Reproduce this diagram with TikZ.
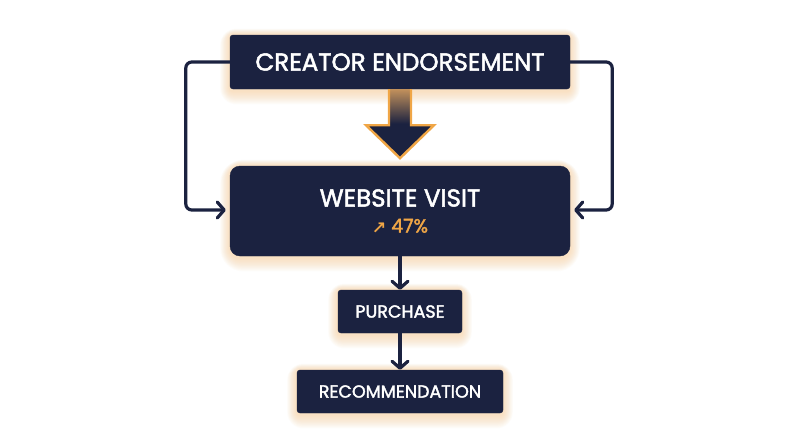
\documentclass[tikz,border=0pt]{standalone}
\usepackage{fontspec}
\setmainfont{Poppins}
\newfontfamily\semi{Poppins}[FakeBold=2]
\newfontfamily\djv{DejaVu Sans}[FakeBold=1.3]
\usetikzlibrary{arrows.meta,backgrounds,calc}
\pgfdeclarelayer{paper}
\pgfsetlayers{paper,background,main}
\definecolor{navy}{HTML}{1B2240}
\definecolor{accent}{HTML}{F0A646}
\definecolor{glowc}{HTML}{F9B565}
\tikzset{
  box/.style={fill=navy, text=white, draw=navy, inner sep=0pt, rounded corners=3pt},
  conn/.style={draw=navy, line width=3.2pt, rounded corners=6pt, line cap=round, -{Straight Barb[length=7pt,width=16pt,line width=3.2pt,round]}},
}
\newcommand{\glowbox}[2]{%
  \foreach \i in {1,...,12}{%
    \pgfmathsetmacro\rr{#2+\i*1.1}%
    \fill[glowc, opacity=0.035, rounded corners=\rr pt]
      ([xshift=-\i*0.8pt, yshift=\i*0.5pt]#1.north west) rectangle ([xshift=\i*0.8pt, yshift=-\i*1.1pt-2pt]#1.south east);
  }%
}
\begin{document}
\begin{tikzpicture}[x=1pt,y=-1pt]
\begin{pgfonlayer}{paper}
\fill[white] (0,0) rectangle (800,447);
\end{pgfonlayer}
\useasboundingbox (0,0) rectangle (800,447);
\node[box, minimum width=340pt, minimum height=54pt, font=\semi\fontsize{24.5}{28}\selectfont] (top) at (400,62) {CREATOR ENDORSEMENT};
\node[box, rounded corners=10pt, minimum width=340pt, minimum height=90pt, align=center, font=\semi\fontsize{24.5}{28}\selectfont] (web) at (400,211)
  {WEBSITE VISIT\\[-2pt]{\color{accent}\fontsize{19}{22}\selectfont{\djv\fontsize{17}{22}\selectfont ↗} 47\%}};
\node[box, minimum width=124pt, minimum height=43pt, font=\semi\fontsize{17.5}{20}\selectfont] (pur) at (400,311.5) {PURCHASE};
\node[box, minimum width=206pt, minimum height=43pt, font=\semi\fontsize{17.5}{20}\selectfont] (rec) at (400,391.5) {RECOMMENDATION};
\begin{scope}[on background layer]
  \glowbox{top}{3}
  \glowbox{web}{10}
  \glowbox{pur}{3}
  \glowbox{rec}{3}
\end{scope}
% big arrow
\draw[accent, line width=2.4pt, line join=miter, top color=glowc!75!navy, bottom color=navy, middle color=navy]
  ([xshift=-11pt]top.south) -- ++(0pt,-36pt) -- ++(-23pt,0pt) -- ([yshift=-69pt]top.south) -- ([xshift=34pt,yshift=-36pt]top.south) -- ([xshift=11pt,yshift=-36pt]top.south) -- ([xshift=11pt]top.south);
% side loops
\draw[conn] (top.west) -- ++(-44pt,0pt) |- ([xshift=-4pt,yshift=1pt]web.west);
\draw[conn] (top.east) -- ++(42pt,0pt) |- ([xshift=4pt,yshift=1pt]web.east);
% down arrows
\draw[conn] (web.south) -- (pur.north);
\draw[conn] (pur.south) -- (rec.north);
\end{tikzpicture}
\end{document}
